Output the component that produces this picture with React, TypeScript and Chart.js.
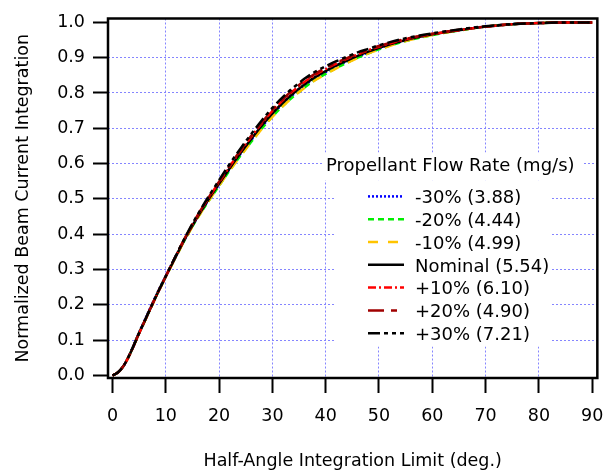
import React, { useEffect, useRef } from "react";
import { Chart, registerables } from "chart.js";

Chart.register(...registerables);

// ---- data ----
const ANGLES = [0, 1, 2, 3, 4, 5, 6, 8, 10, 12, 14, 16, 18, 20, 22, 24, 26, 28, 30, 32, 34, 36, 38, 40, 42, 44, 46, 48, 50, 55, 60, 65, 70, 75, 80, 85, 90];

const NEG30 = [0, 0.008, 0.025, 0.052, 0.087, 0.122, 0.155, 0.221, 0.282, 0.341, 0.397, 0.449, 0.496, 0.541, 0.585, 0.627, 0.666, 0.704, 0.739, 0.77, 0.797, 0.821, 0.842, 0.859, 0.876, 0.89, 0.903, 0.915, 0.927, 0.949, 0.966, 0.978, 0.988, 0.995, 0.998, 1.0, 1.0];
const NEG20 = [0, 0.008, 0.025, 0.052, 0.085, 0.12, 0.152, 0.218, 0.28, 0.339, 0.396, 0.447, 0.493, 0.537, 0.581, 0.622, 0.661, 0.699, 0.733, 0.764, 0.791, 0.815, 0.837, 0.854, 0.871, 0.886, 0.9, 0.912, 0.924, 0.947, 0.964, 0.977, 0.988, 0.995, 0.998, 1.0, 1.0];
const NEG10 = [0, 0.008, 0.024, 0.051, 0.084, 0.119, 0.151, 0.217, 0.279, 0.338, 0.395, 0.446, 0.493, 0.537, 0.58, 0.621, 0.66, 0.698, 0.732, 0.763, 0.79, 0.814, 0.836, 0.853, 0.87, 0.885, 0.899, 0.912, 0.923, 0.947, 0.964, 0.977, 0.988, 0.995, 0.998, 1.0, 1.0];
const NOMINAL = [0, 0.008, 0.025, 0.052, 0.085, 0.12, 0.152, 0.218, 0.28, 0.34, 0.398, 0.45, 0.498, 0.543, 0.587, 0.629, 0.669, 0.707, 0.742, 0.773, 0.8, 0.824, 0.845, 0.862, 0.878, 0.892, 0.905, 0.917, 0.928, 0.95, 0.966, 0.978, 0.988, 0.995, 0.998, 1.0, 1.0];
const POS10 = [0, 0.008, 0.025, 0.051, 0.084, 0.119, 0.152, 0.218, 0.28, 0.341, 0.4, 0.453, 0.502, 0.547, 0.592, 0.635, 0.675, 0.714, 0.749, 0.78, 0.807, 0.831, 0.851, 0.868, 0.883, 0.897, 0.909, 0.921, 0.931, 0.952, 0.967, 0.978, 0.988, 0.995, 0.998, 1.0, 1.0];
const POS20 = [0, 0.008, 0.025, 0.052, 0.085, 0.12, 0.153, 0.219, 0.281, 0.342, 0.401, 0.454, 0.503, 0.549, 0.594, 0.637, 0.678, 0.716, 0.752, 0.783, 0.81, 0.834, 0.854, 0.871, 0.886, 0.899, 0.911, 0.922, 0.933, 0.953, 0.968, 0.979, 0.988, 0.995, 0.998, 1.0, 1.0];
const POS30 = [0, 0.008, 0.025, 0.052, 0.085, 0.12, 0.153, 0.219, 0.281, 0.342, 0.402, 0.456, 0.506, 0.553, 0.599, 0.642, 0.683, 0.722, 0.758, 0.789, 0.816, 0.84, 0.86, 0.876, 0.89, 0.903, 0.915, 0.925, 0.935, 0.955, 0.969, 0.98, 0.989, 0.995, 0.998, 1.0, 1.0];

const SERIES_LABELS = ["-30% (3.88)", "-20% (4.44)", "-10% (4.99)", "Nominal (5.54)", "+10% (6.10)", "+20% (4.90)", "+30% (7.21)"];
const SERIES_VALUES = [NEG30, NEG20, NEG10, NOMINAL, POS10, POS20, POS30];

const X_TICKS = [0, 10, 20, 30, 40, 50, 60, 70, 80, 90];
const Y_TICKS = [0, 0.1, 0.2, 0.3, 0.4, 0.5, 0.6, 0.7, 0.8, 0.9, 1.0];

const X_TITLE = "Half-Angle Integration Limit (deg.)";
const Y_TITLE = "Normalized Beam Current Integration";
const LEGEND_TITLE = "Propellant Flow Rate (mg/s)";

// ---- styles ----
const COLORS = ["#0000ff", "#00ee00", "#ffc400", "#000000", "#ff0000", "#a00000", "#000000"];
const DASHES = [[2, 2], [6, 4], [10, 10], [], [8, 3, 2, 3], [16, 7, 6, 7], [12, 4, 4, 4, 4, 4]];
const FONT = '"DejaVu Sans", sans-serif';
const GRID_COLOR = "#8585ff";

const frameLegendPlugin = {
  id: "frameLegend",
  beforeDatasetsDraw(chart: any) {
    const { ctx, chartArea: a } = chart;
    ctx.save();
    ctx.fillStyle = "#ffffff";
    ctx.fillRect(a.left + 214, a.top + 134, 262, 28);
    ctx.fillRect(a.left + 227, a.top + 162, 216, 166);
    ctx.fillStyle = "#000000";
    ctx.font = "18px " + FONT;
    ctx.textBaseline = "alphabetic";
    ctx.textAlign = "left";
    ctx.fillText(LEGEND_TITLE, a.left + 218, a.top + 152.5);
    chart.data.datasets.forEach((ds: any, i: number) => {
      const base = a.top + 184.7 + 22.8 * i;
      const ly = base - 6.8;
      ctx.save();
      ctx.strokeStyle = ds.borderColor;
      ctx.lineWidth = 2.5;
      ctx.setLineDash(ds.borderDash || []);
      ctx.beginPath();
      ctx.moveTo(a.left + 260, ly);
      ctx.lineTo(a.left + 296, ly);
      ctx.stroke();
      ctx.restore();
      ctx.fillText(ds.label, a.left + 307, base);
    });
    ctx.restore();
  },
  afterDraw(chart: any) {
    const { ctx, chartArea: a } = chart;
    ctx.save();
    ctx.strokeStyle = "#000000";
    ctx.lineWidth = 2.5;
    ctx.setLineDash([]);
    ctx.strokeRect(a.left, a.top, a.right - a.left, a.bottom - a.top);
    ctx.restore();
  },
};

export default function App() {
  const canvasRef = useRef<HTMLCanvasElement | null>(null);

  useEffect(() => {
    if (!canvasRef.current) return;
    const datasets = SERIES_VALUES.map((vals, i) => ({
      label: SERIES_LABELS[i],
      data: ANGLES.map((x, j) => ({ x, y: vals[j] })),
      borderColor: COLORS[i],
      backgroundColor: COLORS[i],
      borderDash: DASHES[i],
      borderWidth: 2.5,
      pointRadius: 0,
      fill: false,
      cubicInterpolationMode: "monotone" as const,
      order: SERIES_VALUES.length - i,
    }));

    const chart = new Chart(canvasRef.current, {
      type: "line",
      data: { datasets },
      plugins: [frameLegendPlugin],
      options: {
        animation: false,
        responsive: false,
        devicePixelRatio: 1,
        layout: { padding: { top: 7, right: 14, left: 0, bottom: 0 } },
        plugins: { legend: { display: false }, tooltip: { enabled: false } },
        scales: {
          x: {
            type: "linear",
            min: -0.836,
            max: 90.96,
            afterBuildTicks: (s: any) => {
              s.ticks = X_TICKS.map((v) => ({ value: v }));
            },
            afterFit: (s: any) => {
              s.height = 94;
            },
            ticks: {
              autoSkip: false,
              maxRotation: 0,
              padding: 12.5,
              color: "#000",
              font: { family: FONT, size: 17.5 },
              callback: (v: any) => String(v),
            },
            grid: {
              color: (c: any) => (c.tick && (c.tick.value === 0 || c.tick.value === 90) ? "rgba(0,0,0,0)" : GRID_COLOR),
              lineWidth: 1,
              drawTicks: true,
              tickLength: 15,
              tickWidth: 2,
              tickColor: "#000",
            },
            border: { display: false, dash: [2, 2] },
            title: {
              display: true,
              text: X_TITLE,
              color: "#000",
              font: { family: FONT, size: 17.5 },
              padding: { top: 7.5, bottom: 0 },
            },
          },
          y: {
            type: "linear",
            min: -0.0074,
            max: 1.011,
            afterBuildTicks: (s: any) => {
              s.ticks = Y_TICKS.map((v) => ({ value: v }));
            },
            afterFit: (s: any) => {
              s.width = 108;
            },
            ticks: {
              autoSkip: false,
              padding: 8,
              color: "#000",
              font: { family: FONT, size: 17.5 },
              callback: (v: any) => Number(v).toFixed(1),
            },
            grid: {
              color: (c: any) => (c.tick && (c.tick.value === 0 || c.tick.value === 1) ? "rgba(0,0,0,0)" : GRID_COLOR),
              lineWidth: 1,
              drawTicks: true,
              tickLength: 15,
              tickWidth: 2,
              tickColor: "#000",
            },
            border: { display: false, dash: [2, 2] },
            title: {
              display: true,
              text: Y_TITLE,
              color: "#000",
              font: { family: FONT, size: 17.5 },
              padding: { top: 13, bottom: 0 },
            },
          },
        },
      },
    });
    return () => chart.destroy();
  }, []);

  return (
    <div style={{ position: "fixed", left: 0, top: 0, width: 616, height: 472, background: "#fff" }}>
      <canvas ref={canvasRef} width={616} height={472} />
    </div>
  );
}
